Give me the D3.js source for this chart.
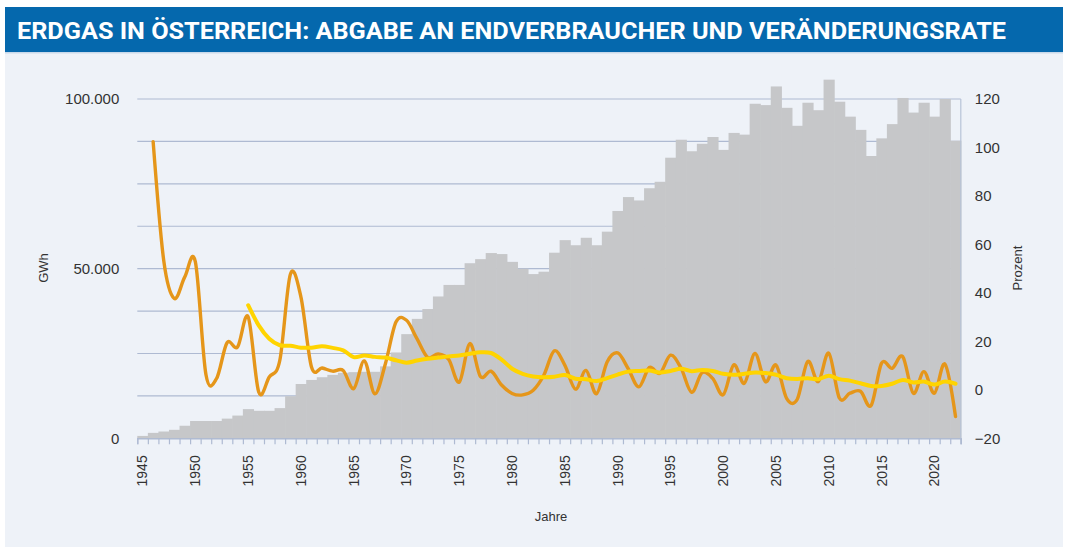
<!DOCTYPE html>
<html>
<head>
<meta charset="utf-8">
<script src="https://cdn.jsdelivr.net/npm/d3@7"></script>
<style>
  body { margin: 0; background: #ffffff; }
  svg text { font-family: "Liberation Sans", Arial, sans-serif; fill: #333; }
</style>
</head>
<body>
<svg id="chart" width="1069" height="547"></svg>
<script>
/////////////////////////////////////////////////////////////////////////////////////
// Data
var years = d3.range(1945, 2023);
var gwh = [700, 1600, 2000, 2500, 3700, 5100, 5100, 5100, 5800, 6700,
           8600, 8100, 8100, 8900, 12400, 16000, 17200, 18000, 18700, 19300,
           19500, 19600, 19600, 21200, 25300, 30700, 35200, 38100, 41800, 45200,
           45200, 51600, 52800, 54600, 54300, 52000, 50000, 48400, 49100, 54700,
           58400, 56900, 59100, 56900, 60900, 67000, 71100, 70100, 73700, 75600,
           82700, 88000, 84600, 86800, 88800, 85000, 90000, 89500, 98600, 98200,
           103700, 97400, 92100, 98900, 96700, 105700, 99200, 94800, 90900, 83200,
           88400, 92600, 100300, 96000, 98900, 94800, 100000, 87700];
// Veränderungsrate in %, ab 1946
var rateYears = d3.range(1946, 2023);
var rate = [102.4, 53.5, 37.7, 46.6, 52.8, 6.3, 4.6, 19.4, 17.7, 30.1,
            -0.9, 5.3, 12.2, 47.7, 38.3, 9.4, 9.0, 7.7, 8.0, 0.5,
            11.9, -1.6, 10.8, 28.0, 28.7, 21.0, 13.4, 14.8, 12.5, 3.2,
            19.1, 5.5, 7.7, 2.0, -1.5, -2.1, -0.2, 6.0, 16.1, 10.1,
            0.3, 8.0, -1.6, 11.5, 15.2, 8.7, 1.2, 9.2, 6.8, 14.3,
            9.0, -1.0, 7.1, 4.7, -2.0, 10.3, 2.7, 15.0, 3.3, 10.2,
            -3.5, -4.0, 11.7, 3.4, 15.1, -3.4, -1.4, -0.6, -6.5, 11.0,
            8.9, 13.7, -1.4, 7.5, -1.4, 10.6, -11.0];
// gleitender Durchschnitt, ab 1955
var avgYears = d3.range(1955, 2023);
var avgRate = [34.9, 26.6, 21.1, 18.4, 18.2, 17.4, 17.4, 18.0, 17.3, 16.3,
               13.5, 14.2, 13.6, 13.3, 12.2, 11.2, 12.1, 12.8, 13.3, 13.8,
               14.2, 14.9, 15.5, 15.2, 12.5, 8.7, 6.6, 5.5, 5.2, 5.4,
               6.1, 4.6, 4.4, 3.6, 4.8, 6.3, 7.5, 7.8, 8.0, 7.1,
               7.8, 8.7, 7.7, 8.2, 7.8, 6.6, 6.2, 6.6, 7.1, 6.9,
               6.2, 4.8, 4.5, 4.8, 4.4, 5.8, 4.4, 3.8, 2.7, 1.6,
               1.6, 2.5, 4.1, 3.0, 3.4, 2.2, 3.4, 2.5];
var leftTicks = [0, 50000, 100000];
var gridTicks = d3.range(0, 100001, 12500);
var rightTicks = d3.range(-20, 121, 20);
var labelYears = d3.range(1945, 2021, 5);

/////////////////////////////////////////////////////////////////////////////////////
// Layout
var svg = d3.select("#chart");
var plot = {left: 137.3, right: 960.8, top: 99, bottom: 438.3};

// panel + header
svg.append("rect").attr("x", 5).attr("y", 7).attr("width", 1058).attr("height", 540)
   .attr("fill", "#eef2f8");
svg.append("rect").attr("x", 5).attr("y", 7).attr("width", 1058).attr("height", 45)
   .attr("fill", "#0568ad");
svg.append("rect").attr("x", 5).attr("y", 52).attr("width", 1058).attr("height", 1.5)
   .attr("fill", "#c9d9ea");
svg.append("text")
   .attr("x", 17).attr("y", 38.5)
   .attr("textLength", 989).attr("lengthAdjust", "spacingAndGlyphs")
   .style("font-family", "Roboto, 'Liberation Sans', sans-serif")
   .style("font-weight", 700).style("font-size", "24px").style("fill", "#ffffff")
   .text("ERDGAS IN ÖSTERREICH: ABGABE AN ENDVERBRAUCHER UND VERÄNDERUNGSRATE");

/////////////////////////////////////////////////////////////////////////////////////
// Scales
var xScale = d3.scaleBand().domain(years).range([plot.left, plot.right]).padding(0);
var xTickScale = d3.scaleLinear().domain([1945, 2023]).range([plot.left, plot.right]);
var yLeft = d3.scaleLinear().domain([0, 100000]).range([plot.bottom, plot.top]);
var yRight = d3.scaleLinear().domain([-20, 120]).range([plot.bottom, plot.top]);

// gridlines
svg.append("g").selectAll("line")
   .data(gridTicks)
   .enter()
   .append("line")
   .attr("x1", plot.left).attr("x2", plot.right)
   .attr("y1", function(d) { return yLeft(d); })
   .attr("y2", function(d) { return yLeft(d); })
   .attr("stroke", "#aebad2").attr("stroke-width", 1.2);

// bars
svg.append("g").selectAll("rect")
   .data(years)
   .enter()
   .append("rect")
   .attr("x", function(d) { return xScale(d); })
   .attr("width", xScale.bandwidth() + 0.6)
   .attr("y", function(d, i) { return yLeft(gwh[i]); })
   .attr("height", function(d, i) { return plot.bottom - yLeft(gwh[i]); })
   .attr("fill", "#c6c7c9");

// right axis line
svg.append("line")
   .attr("x1", plot.right).attr("x2", plot.right)
   .attr("y1", plot.top).attr("y2", plot.bottom + 6)
   .attr("stroke", "#b7c3d8").attr("stroke-width", 1.2);

/////////////////////////////////////////////////////////////////////////////////////
// Lines
var cx = function(d) { return xScale(d) + xScale.bandwidth() / 2; };
var rateLine = d3.line()
   .x(function(d) { return cx(d[0]); })
   .y(function(d) { return yRight(d[1]); })
   .curve(d3.curveCardinal.tension(0));

svg.append("path")
   .datum(d3.zip(rateYears, rate))
   .attr("d", rateLine)
   .attr("fill", "none").attr("stroke", "#e5961a").attr("stroke-width", 3.4)
   .attr("stroke-linejoin", "round").attr("stroke-linecap", "round");

svg.append("path")
   .datum(d3.zip(avgYears, avgRate))
   .attr("d", rateLine)
   .attr("fill", "none").attr("stroke", "#ffd400").attr("stroke-width", 4)
   .attr("stroke-linejoin", "round").attr("stroke-linecap", "round");

/////////////////////////////////////////////////////////////////////////////////////
// Axes
var tickAxis = svg.append("g")
   .attr("transform", "translate(0," + plot.bottom + ")")
   .call(d3.axisBottom(xTickScale).tickValues(d3.range(1945, 2024)).tickSize(6).tickFormat(""));
tickAxis.selectAll("line, path").attr("stroke", "#aebad2").attr("stroke-width", 1.2);

var xAxis = svg.append("g")
   .attr("transform", "translate(0," + plot.bottom + ")")
   .call(d3.axisBottom(xScale).tickValues(labelYears).tickSize(0));
xAxis.select(".domain").remove();
xAxis.selectAll("text")
   .attr("transform", "rotate(-90)")
   .attr("x", -17).attr("y", 0).attr("dy", "0.35em")
   .attr("text-anchor", "end")
   .style("font-size", "14px").style("fill", "#333");

var leftAxis = svg.append("g")
   .attr("transform", "translate(" + plot.left + ",0)")
   .call(d3.axisLeft(yLeft).tickValues(leftTicks).tickSize(0).tickPadding(18)
         .tickFormat(function(d) { return d3.format(",")(d).replace(/,/g, "."); }));
leftAxis.select(".domain").remove();
leftAxis.selectAll("text").style("font-size", "15px").style("fill", "#333");

var rightAxis = svg.append("g")
   .attr("transform", "translate(" + plot.right + ",0)")
   .call(d3.axisRight(yRight).tickValues(rightTicks).tickSize(0).tickPadding(14));
rightAxis.select(".domain").remove();
rightAxis.selectAll("text").style("font-size", "15px").style("fill", "#333")
   .text(function(d) { return d < 0 ? "\u2212" + Math.abs(d) : d; });

// axis titles
svg.append("text").attr("transform", "translate(48,268) rotate(-90)")
   .attr("text-anchor", "middle").style("font-size", "13px").text("GWh");
svg.append("text").attr("transform", "translate(1022,268) rotate(-90)")
   .attr("text-anchor", "middle").style("font-size", "13px").text("Prozent");
svg.append("text").attr("x", 551).attr("y", 521)
   .attr("text-anchor", "middle").style("font-size", "13px").text("Jahre");
</script>
</body>
</html>
